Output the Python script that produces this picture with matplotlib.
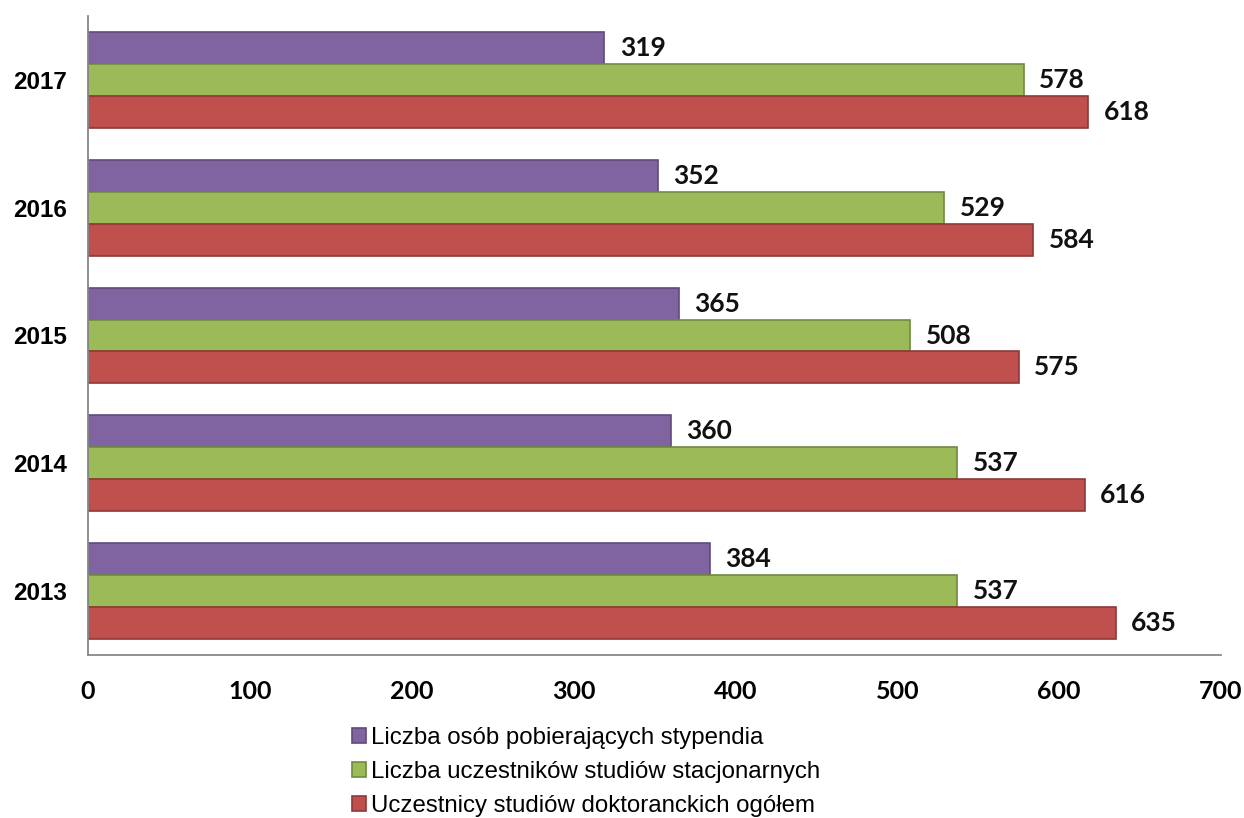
import matplotlib
matplotlib.use("Agg")
import matplotlib.pyplot as plt
import numpy as np

years = ["2013", "2014", "2015", "2016", "2017"]
stypendia = [384, 360, 365, 352, 319]
stacjonarne = [537, 537, 508, 529, 578]
ogolem = [635, 616, 575, 584, 618]
series_names = [
    "Liczba osób pobierających stypendia",
    "Liczba uczestników studiów stacjonarnych",
    "Uczestnicy studiów doktoranckich ogółem",
]
x_ticks = [0, 100, 200, 300, 400, 500, 600, 700]

fills = ["#8064A2", "#9BBB59", "#C0504D"]
edges = ["#5F4B7C", "#71893F", "#8E3A38"]

fig = plt.figure(figsize=(12.44, 8.18), dpi=100)
ax = fig.add_axes([88 / 1244, 1 - 655 / 818, (1221 - 88) / 1244, (655 - 16) / 818])

y = np.arange(len(years))
h = 0.25
offsets = [h, 0, -h]
data = [stypendia, stacjonarne, ogolem]
bars_all = []
for vals, off, fc, ec, name in zip(data, offsets, fills, edges, series_names):
    b = ax.barh(y + off, vals, height=h, color=fc, edgecolor=ec, linewidth=1.2, label=name)
    bars_all.append(b)
    for yi, v in zip(y, vals):
        ax.annotate(str(v), xy=(v, yi + off), xytext=(11, 0), textcoords="offset points",
                    ha="left", va="center", fontsize=19, fontweight="bold",
                    family="Lato", color="#111111")

ax.set_xlim(0, 700)
ax.set_ylim(-0.5, 4.5)
ax.set_xticks(x_ticks)
ax.set_xticklabels([str(t) for t in x_ticks], fontsize=18, fontweight="bold", family="Lato")
ax.set_yticks(y)
ax.set_yticklabels(years, fontsize=17.5, fontweight="bold", family="Liberation Sans")
ax.tick_params(axis="x", length=0, pad=18)
ax.tick_params(axis="y", length=0, pad=15)
for s in ["top", "right"]:
    ax.spines[s].set_visible(False)
for s in ["left", "bottom"]:
    ax.spines[s].set_color("#888888")
    ax.spines[s].set_linewidth(1.3)

leg = fig.legend(handles=bars_all, labels=series_names, loc="upper left",
                 bbox_to_anchor=(352 / 1244, 1 - 727 / 818), frameon=False,
                 prop={"family": "Liberation Sans", "size": 17.3},
                 handlelength=0.6, handleheight=0.6, handletextpad=0.2,
                 labelspacing=0.5, borderaxespad=0, borderpad=0)

fig.savefig("out.png", dpi=100, facecolor="white")
